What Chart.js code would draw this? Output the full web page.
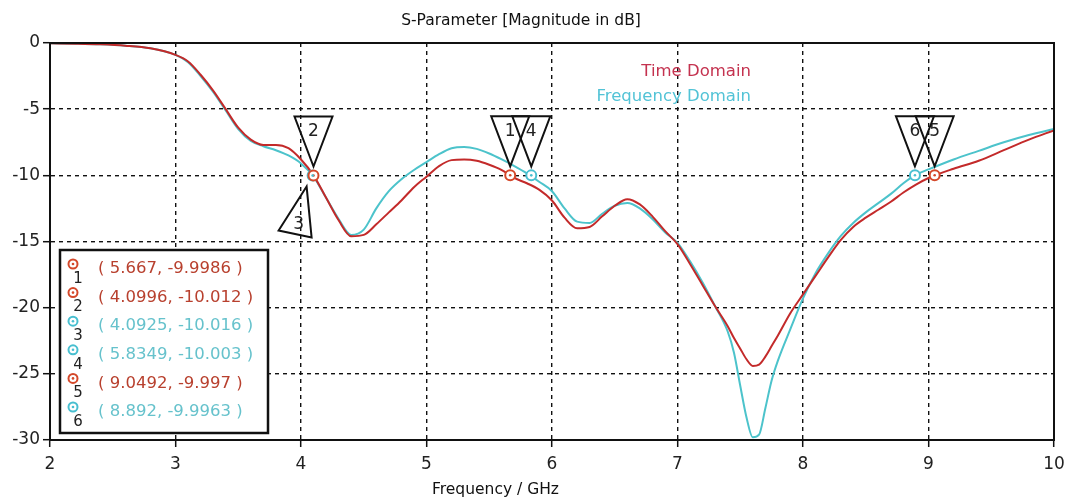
<!DOCTYPE html>
<html lang="en">
<head>
    <meta charset="UTF-8">
    <title>S-Parameter [Magnitude in dB]</title>
    <script src="https://cdn.jsdelivr.net/npm/chart.js@4.4.1/dist/chart.umd.min.js"></script>
    <style>
        html, body { margin: 0; padding: 0; background: #fff; }
        canvas { display: block; }
    </style>
</head>
<body>
    <canvas id="myChart" width="1066" height="501"></canvas>
    <script>
        // frequency grid (GHz) shared by both curves
        const freq = [2.0, 2.2, 2.4, 2.6, 2.8, 3.0, 3.1, 3.2, 3.3, 3.4, 3.5, 3.6, 3.7, 3.8, 3.9,
            4.0, 4.1, 4.2, 4.3, 4.4, 4.5, 4.6, 4.7, 4.8, 4.9, 5.0, 5.1, 5.2, 5.3, 5.4, 5.5, 5.6,
            5.7, 5.8, 5.9, 6.0, 6.1, 6.2, 6.3, 6.4, 6.5, 6.6, 6.7, 6.8, 6.9, 7.0, 7.1, 7.2, 7.3,
            7.4, 7.45, 7.5, 7.55, 7.6, 7.65, 7.7, 7.75, 7.8, 7.9, 8.0, 8.1, 8.2, 8.3, 8.4, 8.5,
            8.6, 8.7, 8.8, 8.9, 9.0, 9.2, 9.4, 9.6, 9.8, 10.0];

        const timeDomain = [-0.02, -0.05, -0.1, -0.2, -0.4, -0.9, -1.4, -2.4, -3.6, -5.0, -6.4, -7.3, -7.7, -7.7, -7.95,
            -8.8, -10.0, -11.7, -13.4, -14.6, -14.5, -13.7, -12.8, -11.9, -10.9, -10.1, -9.3, -8.85, -8.8, -8.9, -9.2, -9.6,
            -10.2, -10.6, -11.1, -11.9, -13.2, -14.0, -13.9, -13.1, -12.3, -11.8, -12.2, -13.1, -14.2, -15.2, -16.7, -18.3, -19.9,
            -21.4, -22.3, -23.1, -23.9, -24.4, -24.3, -23.7, -22.9, -22.1, -20.4, -19.0, -17.6, -16.2, -14.9, -13.9, -13.2,
            -12.6, -12.0, -11.3, -10.7, -10.2, -9.5, -8.9, -8.1, -7.3, -6.6];

        const freqDomain = [-0.02, -0.05, -0.1, -0.2, -0.4, -0.9, -1.45, -2.5, -3.7, -5.1, -6.5, -7.4, -7.8, -8.1, -8.5,
            -9.1, -10.1, -11.7, -13.3, -14.5, -14.1, -12.5, -11.2, -10.3, -9.6, -9.0, -8.4, -7.95, -7.85, -8.0, -8.35, -8.8,
            -9.3, -9.85, -10.5, -11.2, -12.5, -13.5, -13.6, -12.9, -12.3, -12.1, -12.5, -13.3, -14.3, -15.1, -16.5, -18.1, -19.9,
            -21.8, -23.4, -25.9, -28.3, -29.8, -29.6, -27.6, -25.5, -24.0, -21.6, -19.3, -17.4, -15.9, -14.6, -13.6, -12.8,
            -12.1, -11.4, -10.6, -9.95, -9.55, -8.8, -8.15, -7.5, -6.95, -6.5];

        // markers 1..6
        const markerX = [5.667, 4.0996, 4.0925, 5.8349, 9.0492, 8.892];
        const markerY = [-9.9986, -10.012, -10.016, -10.003, -9.997, -9.9963];
        const markerCurve = ['time', 'time', 'freq', 'freq', 'time', 'freq'];
        const markerText = ['( 5.667, -9.9986 )', '( 4.0996, -10.012 )', '( 4.0925, -10.016 )',
            '( 5.8349, -10.003 )', '( 9.0492, -9.997 )', '( 8.892, -9.9963 )'];

        const xTicks = [2, 3, 4, 5, 6, 7, 8, 9, 10];
        const yTicks = [0, -5, -10, -15, -20, -25, -30];

        const RED = '#c32a2a';
        const CYAN = '#4cc3cb';
        const MRED = '#d4482a';
        const MCYAN = '#48bfd0';
        const FONT = "'DejaVu Sans', Verdana, sans-serif";

        function pts(ys) {
            return freq.map((f, i) => ({ x: f, y: ys[i] }));
        }
        function markerPts(curve) {
            const out = [];
            markerX.forEach((mx, i) => {
                if (markerCurve[i] === curve) out.push({ x: mx, y: markerY[i] });
            });
            return out;
        }

        const overlay = {
            id: 'overlay',
            afterDatasetsDraw(chart) {
                const ctx = chart.ctx;
                const xs = chart.scales.x, ys = chart.scales.y;
                ctx.save();
                // marker center dots
                markerX.forEach((mx, i) => {
                    const px = xs.getPixelForValue(mx), py = ys.getPixelForValue(markerY[i]);
                    ctx.fillStyle = markerCurve[i] === 'time' ? MRED : MCYAN;
                    ctx.beginPath();
                    ctx.arc(px, py, 1.3, 0, Math.PI * 2);
                    ctx.fill();
                });
                // flag triangles
                ctx.strokeStyle = '#111';
                ctx.lineWidth = 2;
                ctx.fillStyle = '#222';
                ctx.font = '17px ' + FONT;
                ctx.textAlign = 'center';
                ctx.textBaseline = 'middle';
                markerX.forEach((mx, i) => {
                    const px = xs.getPixelForValue(mx), py = ys.getPixelForValue(markerY[i]);
                    ctx.beginPath();
                    if (i === 2) {
                        ctx.moveTo(px - 6, py + 11);
                        ctx.lineTo(px - 34, py + 55);
                        ctx.lineTo(px - 1, py + 62);
                        ctx.closePath();
                        ctx.stroke();
                        ctx.fillText(String(i + 1), px - 14, py + 49);
                    } else {
                        ctx.moveTo(px, py - 9);
                        ctx.lineTo(px - 19, py - 59);
                        ctx.lineTo(px + 19, py - 59);
                        ctx.closePath();
                        ctx.stroke();
                        ctx.fillText(String(i + 1), px, py - 44);
                    }
                });
                ctx.restore();
            },
            afterDraw(chart) {
                const ctx = chart.ctx;
                const a = chart.chartArea;
                ctx.save();
                // plot frame
                ctx.strokeStyle = '#111';
                ctx.lineWidth = 2;
                ctx.strokeRect(a.left, a.top, a.right - a.left, a.bottom - a.top);

                // title
                ctx.fillStyle = '#111';
                ctx.textAlign = 'center';
                ctx.textBaseline = 'middle';
                ctx.font = '15.5px ' + FONT;
                ctx.fillText('S-Parameter [Magnitude in dB]', 521, 21);

                // axis title
                ctx.textAlign = 'left';
                ctx.font = '15.5px ' + FONT;
                ctx.fillText('Frequency / GHz', 432, 490);

                // curve legend
                ctx.textAlign = 'right';
                ctx.font = '16.5px ' + FONT;
                ctx.fillStyle = '#c4324f';
                ctx.fillText('Time Domain', 751, 72);
                ctx.fillStyle = '#52c3d6';
                ctx.fillText('Frequency Domain', 751, 97);

                // marker table
                ctx.fillStyle = '#fff';
                ctx.fillRect(60, 250, 208, 183);
                ctx.strokeStyle = '#111';
                ctx.lineWidth = 2.5;
                ctx.strokeRect(60, 250, 208, 183);
                markerText.forEach((t, i) => {
                    const rowY = 269 + i * 28.6;
                    const col = markerCurve[i] === 'time' ? MRED : MCYAN;
                    ctx.strokeStyle = col;
                    ctx.lineWidth = 2;
                    ctx.beginPath();
                    ctx.arc(73, rowY - 5, 4.5, 0, Math.PI * 2);
                    ctx.stroke();
                    ctx.fillStyle = col;
                    ctx.beginPath();
                    ctx.arc(73, rowY - 5, 1.3, 0, Math.PI * 2);
                    ctx.fill();
                    ctx.fillStyle = '#222';
                    ctx.textAlign = 'center';
                    ctx.font = '15px ' + FONT;
                    ctx.fillText(String(i + 1), 78, rowY + 10);
                    ctx.fillStyle = markerCurve[i] === 'time' ? '#b8402e' : '#66c2cc';
                    ctx.textAlign = 'left';
                    ctx.font = '16.5px ' + FONT;
                    ctx.fillText(t, 98, rowY);
                });
                ctx.restore();
            }
        };

        const ctx = document.getElementById('myChart').getContext('2d');
        new Chart(ctx, {
            type: 'line',
            data: {
                datasets: [
                    {
                        type: 'scatter', data: markerPts('time'), order: 0,
                        pointRadius: 5, pointBorderWidth: 2, pointBorderColor: MRED, pointBackgroundColor: '#fff'
                    },
                    {
                        type: 'scatter', data: markerPts('freq'), order: 0,
                        pointRadius: 5, pointBorderWidth: 2, pointBorderColor: MCYAN, pointBackgroundColor: '#fff'
                    },
                    {
                        label: 'Time Domain', data: pts(timeDomain), order: 1,
                        borderColor: RED, borderWidth: 2, pointRadius: 0, cubicInterpolationMode: 'monotone'
                    },
                    {
                        label: 'Frequency Domain', data: pts(freqDomain), order: 2,
                        borderColor: CYAN, borderWidth: 2, pointRadius: 0, cubicInterpolationMode: 'monotone'
                    }
                ]
            },
            options: {
                responsive: false,
                animation: false,
                layout: { padding: { top: 43, right: 12, left: 0, bottom: 0 } },
                plugins: { legend: { display: false }, tooltip: { enabled: false } },
                scales: {
                    x: {
                        type: 'linear', min: 2, max: 10,
                        afterBuildTicks: s => { s.ticks = xTicks.map(v => ({ value: v })); },
                        afterFit: s => { s.height = 61; s.paddingRight = 0; s.paddingLeft = 0; },
                        ticks: { color: '#222', font: { family: FONT, size: 17 }, padding: 7, maxRotation: 0 },
                        grid: { color: '#111', lineWidth: 1.4, tickLength: 7, tickColor: '#111', tickWidth: 1.5 },
                        border: { display: true, color: '#111', width: 2, dash: [4, 4] }
                    },
                    y: {
                        min: -30, max: 0,
                        afterBuildTicks: s => { s.ticks = yTicks.map(v => ({ value: v })); },
                        afterFit: s => { s.width = 50; },
                        ticks: { color: '#222', font: { family: FONT, size: 17 }, padding: 3 },
                        grid: { color: '#111', lineWidth: 1.4, tickLength: 7, tickColor: '#111', tickWidth: 1.5 },
                        border: { display: true, color: '#111', width: 2, dash: [4, 4] }
                    }
                }
            },
            plugins: [overlay]
        });
    </script>
</body>
</html>
